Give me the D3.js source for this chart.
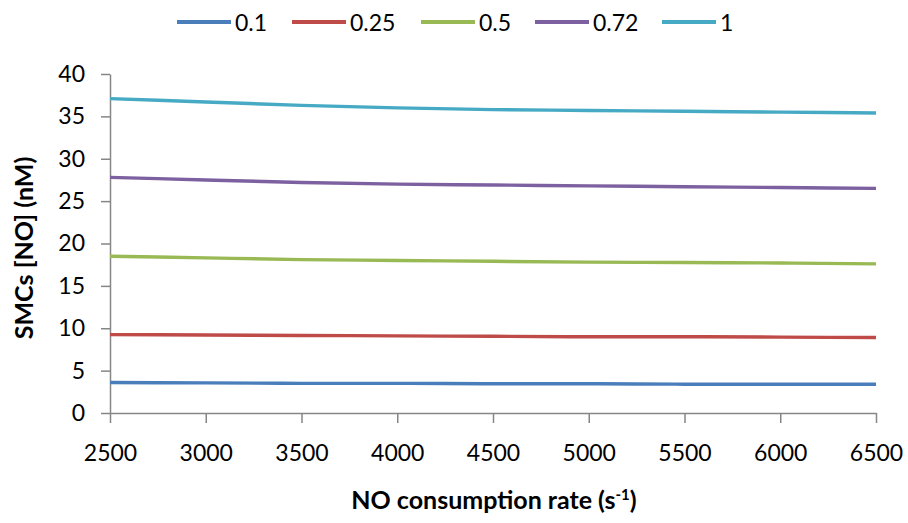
<!DOCTYPE html>
<html><head><meta charset="utf-8">
<script src="https://cdn.jsdelivr.net/npm/d3@7"></script>
<style>body{margin:0;background:#fff}</style>
</head><body><svg id="c" width="908" height="523"></svg>
<script>
const xValues = [2500,3000,3500,4000,4500,5000,5500,6000,6500];
const seriesNames = ["0.1","0.25","0.5","0.72","1"];
const s01  = [3.6,3.55,3.5,3.5,3.45,3.45,3.4,3.4,3.4];
const s025 = [9.25,9.2,9.15,9.1,9.05,9.0,9.0,8.95,8.9];
const s05  = [18.5,18.3,18.1,18.0,17.9,17.8,17.75,17.7,17.6];
const s072 = [27.8,27.5,27.2,27.0,26.9,26.8,26.7,26.6,26.5];
const s1   = [37.1,36.7,36.3,36.0,35.8,35.7,35.6,35.5,35.4];
const seriesValues = [s01,s025,s05,s072,s1];
const colors = ["#4a7ebb","#be4b48","#98b954","#7d60a0","#46aac5"];
const yTicks = [0,5,10,15,20,25,30,35,40];

const svg = d3.select("#c");
const x = d3.scaleLinear().domain([2500,6500]).range([110,876]);
const y = d3.scaleLinear().domain([0,40]).range([413,74]);
const font = "Lato, 'Open Sans', sans-serif";

const ya = svg.append("g").attr("transform","translate(110,0)")
  .call(d3.axisLeft(y).tickValues(yTicks).tickSize(9).tickSizeOuter(0).tickPadding(16));
const xa = svg.append("g").attr("transform","translate(0,413)")
  .call(d3.axisBottom(x).tickValues(xValues).tickSize(10).tickSizeOuter(0).tickPadding(22).tickFormat(d3.format("d")));
[ya,xa].forEach(a=>{
  a.selectAll("path,line").attr("stroke","#868686").attr("stroke-width",1.5);
  a.selectAll("text").attr("font-family",font).attr("font-size",23).attr("fill","#000");
});

const line = d3.line().x((d,i)=>x(xValues[i])).y(d=>y(d)).curve(d3.curveMonotoneX);
seriesValues.forEach((vals,k)=>{
  svg.append("path").datum(vals).attr("d",line).attr("fill","none")
    .attr("stroke",colors[k]).attr("stroke-width",3.4);
});

const legX = [177,292,421,535,662];
seriesNames.forEach((n,k)=>{
  const g = svg.append("g").attr("transform",`translate(${legX[k]},22)`);
  g.append("line").attr("x1",0).attr("x2",54).attr("stroke",colors[k]).attr("stroke-width",4);
  g.append("text").attr("x",58).attr("y",8.5).text(n)
    .attr("font-family",font).attr("font-size",23);
});

svg.append("text").attr("transform","translate(33,248) rotate(-90)")
  .attr("text-anchor","middle").attr("font-family",font).attr("font-size",25).attr("font-weight",700)
  .text("SMCs [NO] (nM)");
const xt = svg.append("text").attr("x",494).attr("y",509).attr("text-anchor","middle")
  .attr("font-family",font).attr("font-size",25).attr("font-weight",700);
xt.append("tspan").text("NO consumption rate (s");
xt.append("tspan").attr("dy",-9).attr("font-size",15).text("-1");
xt.append("tspan").attr("dy",9).text(")");
</script></body></html>
